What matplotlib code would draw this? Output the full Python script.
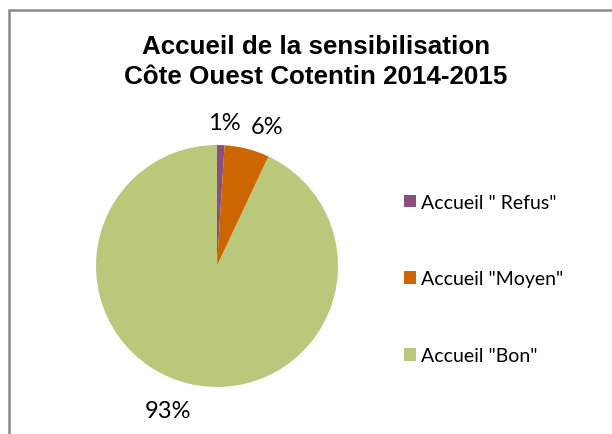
import matplotlib
matplotlib.use("Agg")
import matplotlib.pyplot as plt
from matplotlib.patches import Rectangle, Patch

categories = ['Accueil " Refus"', 'Accueil "Moyen"', 'Accueil "Bon"']
values = [1, 6, 93]
pct_labels = ["1%", "6%", "93%"]
colors = ["#8B4F7F", "#CC6600", "#BBC77A"]
title = "Accueil de la sensibilisation\nCôte Ouest Cotentin 2014-2015"

# label positions (pixels from top-left), layout only
label_pos = [(224, 123), (267, 128), (168, 412)]

W, H = 612, 435
fig = plt.figure(figsize=(W / 100, H / 100), dpi=100)
ax = fig.add_axes([0, 0, 1, 1])

# chart border
ax.add_patch(Rectangle((9, -5), W + 10, H - 11 + 5, fill=False,
                       edgecolor="#8a8a8a", linewidth=1.8))

wedges, texts = ax.pie(values, labels=pct_labels, colors=colors,
                       startangle=90, counterclock=False,
                       center=(217, H - 267), radius=121,
                       labeldistance=1.19, frame=True,
                       wedgeprops=dict(linewidth=0),
                       textprops=dict(fontsize=17, family="Lato", color="#000000"))
for t, (px, py) in zip(texts, label_pos):
    t.set_horizontalalignment("center")
    t.set_verticalalignment("center")
    t.set_position((px, H - py))
ax.set_xlim(0, W)
ax.set_ylim(0, H)
ax.set_aspect("equal")
ax.axis("off")

ax.text(316, H - 62, title, ha="center", va="center", fontsize=18.7,
        fontweight="bold", family="Liberation Sans", linespacing=1.3)

handles = [Patch(facecolor=c, edgecolor="none") for c in colors]
leg = ax.legend(handles, categories, loc="center left",
                bbox_to_anchor=(404 / W, 1 - 280 / H),
                frameon=False, prop=dict(family="Lato", size=14),
                handlelength=0.62, handleheight=0.62, handletextpad=0.26,
                labelspacing=3.07, borderaxespad=0, borderpad=0)

fig.savefig("out.png", dpi=100)
